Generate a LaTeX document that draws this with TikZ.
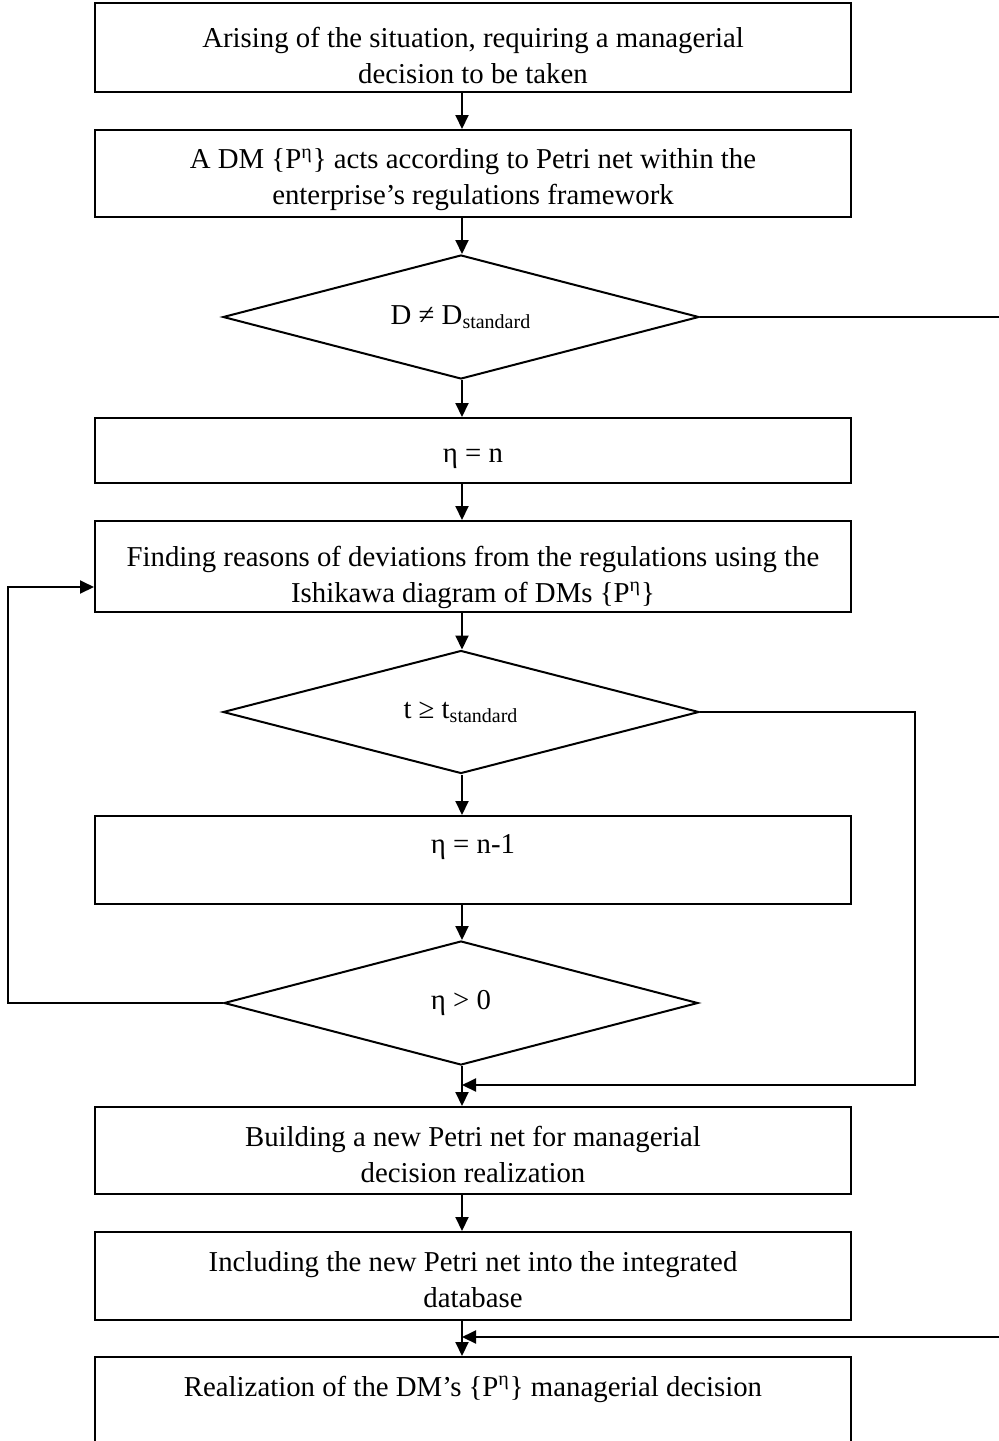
\documentclass[tikz,border=0pt]{standalone}
\usepackage{fontspec}
\setmainfont{Liberation Serif}
\usetikzlibrary{shapes.geometric,arrows.meta}
\begin{document}
\begin{tikzpicture}[x=0.5pt,y=-0.5pt,
  txt/.style={font=\fontsize{14.4}{18}\selectfont,align=center,inner sep=0pt},
  box/.style={draw,line width=1pt,minimum width=378pt,inner sep=0pt},
  dia/.style={draw,diamond,shape aspect=3.8,line width=1pt,minimum width=238pt,minimum height=62pt,inner sep=0pt,txt},
  arr/.style={line width=1pt,-{Triangle[length=7pt,width=6.5pt]}},
  ln/.style={line width=1pt}]
\useasboundingbox (0,0) rectangle (999,1441);
\node[box,minimum height=44.5pt] (b1) at (473,47.5) {};
\node[txt] (t1) at (473,55) {Arising of the situation, requiring a managerial\\decision to be taken};
\node[box,minimum height=43.5pt] (b2) at (473,173.5) {};
\node[txt] (t2) at (473,180) {A DM \{P\textsuperscript{η}\} acts according to Petri net within the\\enterprise’s regulations framework};
\node[dia] (d1) at (461,317) {D ≠ D\textsubscript{standard}};
\node[box,minimum height=32.5pt] (b3) at (473,450.5) {};
\node[txt] (t3) at (473,459) {η = n};
\node[box,minimum height=45.5pt] (b4) at (473,566.5) {};
\node[txt] (t4) at (473,577) {Finding reasons of deviations from the regulations using the\\Ishikawa diagram of DMs \{P\textsuperscript{η}\}};
\node[dia,minimum height=61.5pt] (d2) at (461,712) {t ≥ t\textsubscript{standard}};
\node[box,minimum height=44pt] (b5) at (473,860) {};
\node[txt] (t5) at (473,847) {η = n-1};
\node[dia,minimum width=237pt] (d3) at (461,1003) {η \textgreater{} 0};
\node[box,minimum height=43.5pt] (b6) at (473,1150.5) {};
\node[txt] (t6) at (473,1154) {Building a new Petri net for managerial\\decision realization};
\node[box,minimum height=44pt] (b7) at (473,1276) {};
\node[txt] (t7) at (473,1280) {Including the new Petri net into the integrated\\database};
\node[box,minimum height=48pt] (b8) at (473,1405) {};
\node[txt] (t8) at (473,1389) {Realization of the DM’s \{P\textsuperscript{η}\} managerial decision};
\coordinate (c) at (462,0);
\draw[arr] (b1.south -| c) -- (b2.north -| c);
\draw[arr] (b2.south -| c) -- (d1.north -| c);
\draw[arr] (d1.south -| c) -- (b3.north -| c);
\draw[arr] (b3.south -| c) -- (b4.north -| c);
\draw[arr] (b4.south -| c) -- (d2.north -| c);
\draw[arr] (d2.south -| c) -- (b5.north -| c);
\draw[arr] (b5.south -| c) -- (d3.north -| c);
\draw[arr] (d3.south -| c) -- (b6.north -| c);
\draw[arr] (b6.south -| c) -- (b7.north -| c);
\draw[arr] (b7.south -| c) -- (b8.north -| c);
\coordinate (r1) at (999,317);
\draw[ln] (d1.east) -- (r1);
\coordinate (r2) at (999,1337);
\draw[arr] (r2) -- (r2 -| c);
\coordinate (l1) at (8,587);
\draw[arr] (d3.west) -- (d3.west -| l1) -- (l1) -- (l1 -| b4.west);
\coordinate (r4) at (915,1085);
\draw[arr] (d2.east) -- (d2.east -| r4) -- (r4) -- (r4 -| c);
\end{tikzpicture}
\end{document}
